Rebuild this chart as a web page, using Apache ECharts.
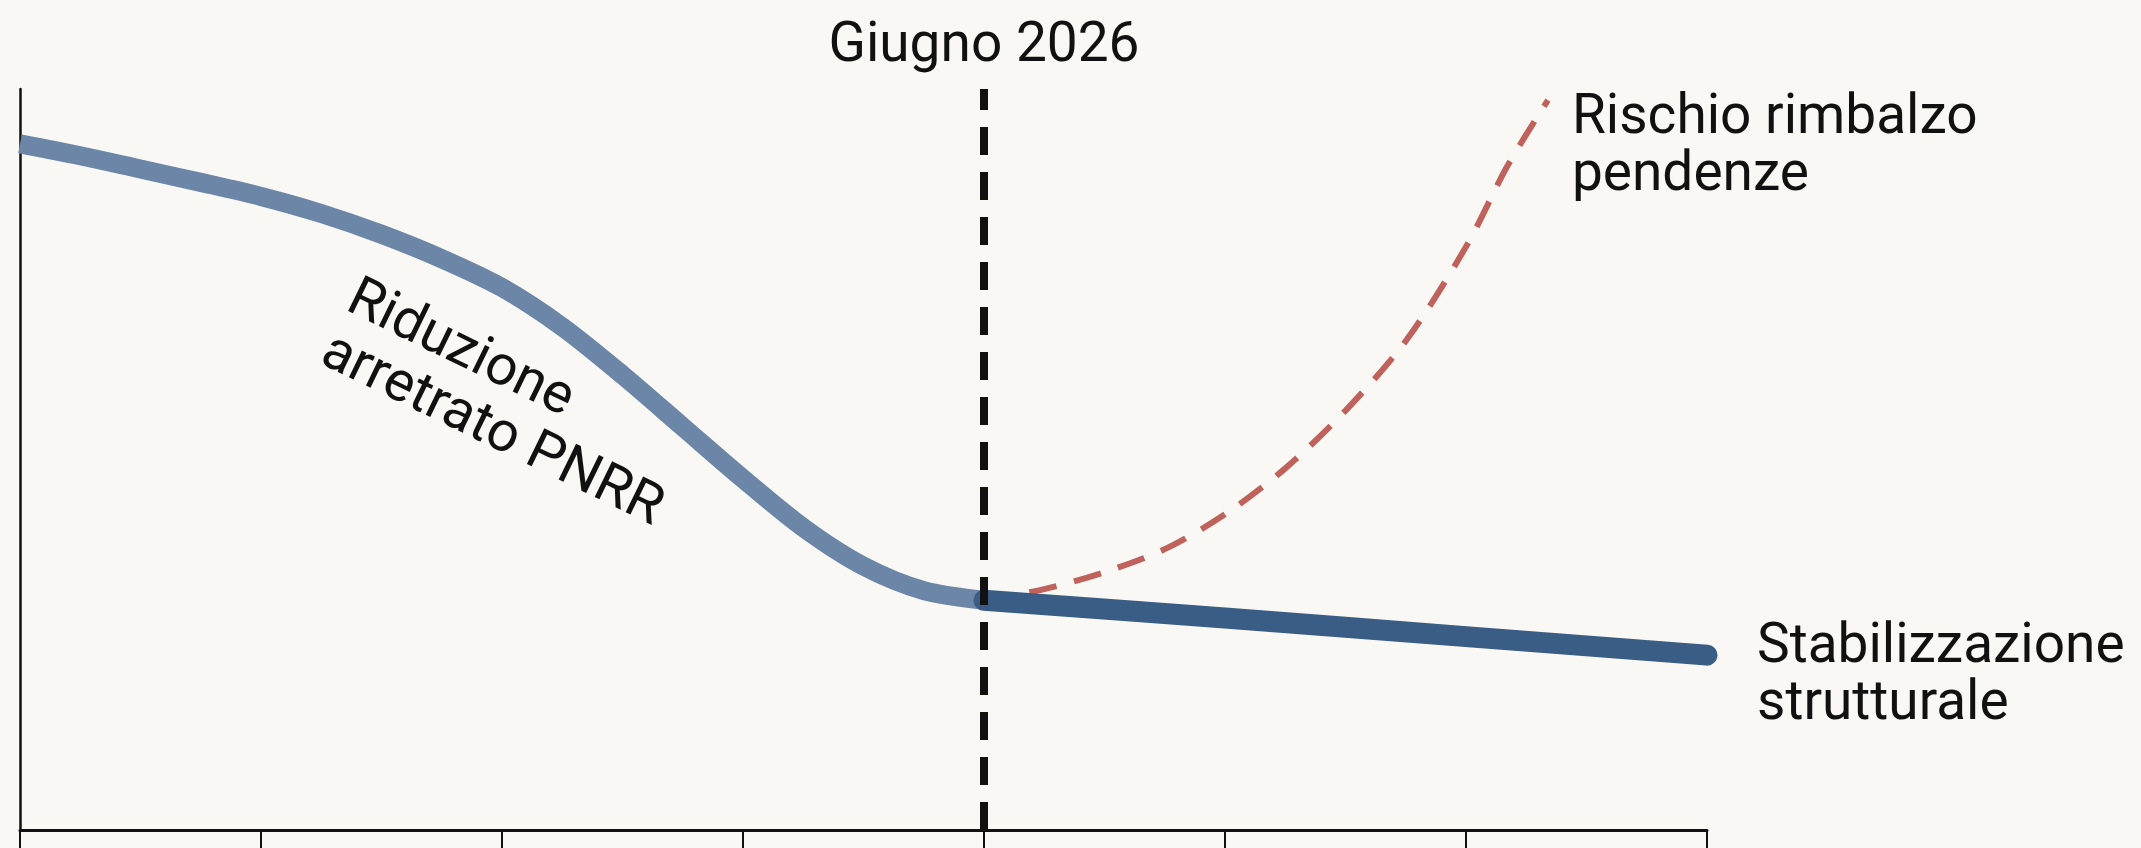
<!DOCTYPE html>
<html>
<head>
<meta charset="utf-8">
<script src="https://cdn.jsdelivr.net/npm/echarts@6/dist/echarts.min.js"></script>
<style>
  html, body { margin: 0; padding: 0; background: #f9f8f4; }
  #chart { width: 2141px; height: 848px; }
</style>
</head>
<body>
<div id="chart"></div>
<script>
// ---- data ----
const xTicks = [0, 1, 2, 3, 4, 5, 6, 7];
const pastX = [0, 0.25, 0.5, 0.75, 1, 1.25, 1.5, 1.75, 2, 2.25, 2.5, 2.75, 3, 3.25, 3.5, 3.75, 4];
const pastY = [92.6, 91.0, 89.2, 87.4, 85.5, 83.2, 80.4, 77.1, 73.2, 67.9, 61.4, 54.4, 47.4, 40.8, 35.6, 32.3, 31.0];
const stableX = [4, 5, 6, 7];
const stableY = [31.0, 28.6, 26.1, 23.6];
const riskX = [4, 4.25, 4.5, 4.75, 5, 5.25, 5.5, 5.75, 6, 6.17, 6.34];
const riskY = [31.0, 32.5, 34.8, 37.9, 42.6, 48.8, 56.6, 66.0, 78.7, 89.5, 98.5];
const milestoneX = 4;
const milestoneLabel = 'Giugno 2026';
const pastLabel = 'Riduzione\narretrato PNRR';
const stableLabel = 'Stabilizzazione\nstrutturale';
const riskLabel = 'Rischio rimbalzo\npendenze';

const zip = (xs, ys) => xs.map((x, i) => [x, ys[i]]);
const FONT = 'Roboto, "Noto Sans", sans-serif';

const chart = echarts.init(document.getElementById('chart'), null, { renderer: 'canvas' });
chart.setOption({
  backgroundColor: '#f9f8f4',
  animation: false,
  grid: { left: 20, top: 89, right: 434, bottom: 18, containLabel: false },
  xAxis: {
    type: 'value', min: xTicks[0], max: xTicks[xTicks.length - 1], interval: 1,
    axisLine: { show: true, lineStyle: { color: '#111', width: 3 } },
    axisTick: { show: true, length: 22, lineStyle: { color: '#111', width: 2 } },
    axisLabel: { show: false },
    splitLine: { show: false }
  },
  yAxis: {
    type: 'value', min: 0, max: 100,
    axisLine: { show: true, lineStyle: { color: '#111', width: 2.5 } },
    axisTick: { show: false },
    axisLabel: { show: false },
    splitLine: { show: false }
  },
  series: [
    {
      name: 'Riduzione arretrato PNRR',
      type: 'line',
      data: zip(pastX, pastY),
      smooth: 0.3,
      showSymbol: false,
      lineStyle: { color: '#6b86a7', width: 19 },
      z: 3,
      markLine: {
        silent: true,
        symbol: 'none',
        lineStyle: { color: '#111', width: 8, type: [28, 17] },
        label: {
          show: true, position: 'end', formatter: milestoneLabel,
          color: '#111', fontSize: 55, fontFamily: FONT, distance: 14
        },
        data: [{ xAxis: milestoneX }]
      }
    },
    {
      name: 'Rischio rimbalzo pendenze',
      type: 'line',
      data: zip(riskX, riskY),
      smooth: 0.3,
      showSymbol: false,
      lineStyle: { color: '#c0625c', width: 6, type: [28, 18] },
      z: 2,
      endLabel: {
        show: true, formatter: riskLabel, distance: 24, offset: [0, 48],
        color: '#111', fontSize: 55, lineHeight: 57, fontFamily: FONT, align: 'left'
      }
    },
    {
      name: 'Stabilizzazione strutturale',
      type: 'line',
      data: zip(stableX, stableY),
      smooth: 0.3,
      showSymbol: false,
      lineStyle: { color: '#3a5d85', width: 21, cap: 'round' },
      z: 4,
      endLabel: {
        show: true, formatter: stableLabel, distance: 50, offset: [0, 22],
        color: '#111', fontSize: 55, lineHeight: 57, fontFamily: FONT, align: 'left'
      }
    }
  ],
  graphic: [
    {
      type: 'text',
      x: 363, y: 270,
      rotation: -26 * Math.PI / 180,
      style: {
        text: pastLabel, fill: '#111', fontSize: 56, lineHeight: 59,
        fontFamily: FONT, align: 'left', verticalAlign: 'top'
      },
      z: 10
    }
  ]
});
</script>
</body>
</html>
